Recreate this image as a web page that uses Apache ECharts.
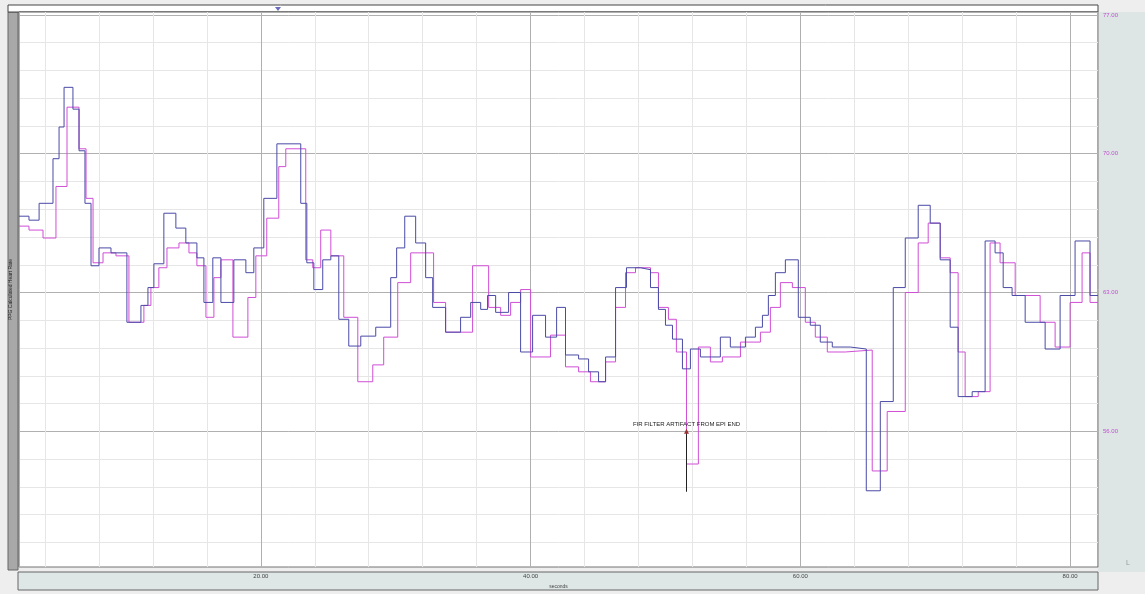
<!DOCTYPE html>
<html>
<head>
    <meta charset="utf-8">
    <script src="https://cdn.jsdelivr.net/npm/echarts@6/dist/echarts.min.js"></script>
    <style>
        html, body { margin: 0; padding: 0; background: #eeeeee; }
    </style>
</head>
<body>
	<div id="main" style="width: 1145px; height: 594px;"></div>
	<script type="text/javascript">
		// heart rate (bpm) step values, blue = reference trace, pink = filtered trace
		var blueT = [2.07, 2.81, 3.56, 4.59, 5.04, 5.41, 6.07, 6.52, 6.96, 7.41,
			8.0, 8.89, 10.07, 11.11, 11.63, 12.07, 12.81, 13.70, 14.44, 15.26,
			15.78, 16.44, 17.04, 18.0, 18.89, 19.48, 20.22, 21.19, 22.96, 23.41,
			23.93, 24.59, 25.19, 25.78, 26.52, 27.41, 28.52, 29.63, 30.07, 30.67,
			31.48, 32.22, 32.74, 33.70, 34.81, 35.56, 36.30, 36.81, 37.41, 38.37,
			39.26, 40.15, 41.11, 41.93, 42.59, 43.56, 44.30, 45.04, 45.56, 46.30,
			47.11, 48.15, 48.89, 49.48, 50.0, 50.52, 51.26, 51.85, 52.59, 54.07,
			54.81, 55.93, 56.67, 57.19, 57.63, 58.15, 58.89, 59.85, 60.74, 61.48,
			62.37, 63.70, 64.89, 65.93, 66.89, 67.78, 68.74, 69.63, 70.37, 71.11,
			71.70, 72.74, 73.70, 74.44, 75.04, 75.70, 76.67, 78.15, 79.26, 80.37,
			81.48, 82.07]
		var blueV = [66.85, 66.65, 67.5, 69.75, 71.35, 73.35, 72.25, 70.15, 67.5, 64.35,
			65.25, 65.0, 61.5, 62.35, 63.25, 64.45, 67.0, 66.25, 65.5, 64.75,
			62.5, 64.75, 62.5, 64.65, 64.0, 65.25, 67.75, 70.5, 67.5, 64.5,
			63.15, 64.65, 64.85, 61.65, 60.3, 60.8, 61.25, 63.75, 65.25, 66.85,
			65.5, 63.75, 62.25, 61.0, 61.75, 62.5, 62.15, 62.85, 62.0, 63.0,
			60.0, 61.85, 60.75, 62.25, 59.85, 59.65, 59.0, 58.5, 59.75, 63.25,
			64.25, 64.15, 63.25, 62.15, 61.35, 60.65, 59.15, 60.15, 59.75, 60.75,
			60.25, 60.75, 61.25, 61.85, 62.85, 64.0, 64.65, 61.75, 61.35, 60.5,
			60.25, 60.15, 53.0, 57.5, 63.25, 65.75, 67.4, 66.5, 64.65, 61.25,
			57.75, 58.0, 65.6, 65.0, 63.25, 62.85, 61.5, 60.15, 62.85, 65.6,
			62.85, 62.85]
		var pinkT = [2.07, 2.81, 3.85, 4.81, 5.63, 6.52, 7.04, 7.56, 8.30, 9.26,
			10.22, 11.33, 11.85, 12.44, 13.04, 13.93, 14.67, 15.26, 15.93, 16.52,
			17.04, 17.93, 19.04, 19.63, 20.44, 21.33, 21.85, 23.33, 23.85, 24.44,
			25.19, 26.15, 27.19, 28.30, 29.11, 30.15, 31.11, 32.81, 33.70, 35.70,
			36.89, 37.78, 38.52, 39.26, 40.0, 41.48, 42.59, 43.56, 44.44, 45.56,
			46.30, 47.04, 47.78, 48.89, 49.48, 50.22, 50.81, 51.56, 52.44, 53.33,
			54.22, 55.56, 57.04, 57.78, 58.52, 59.41, 60.37, 61.11, 62.0, 63.33,
			65.33, 66.44, 67.78, 68.74, 69.48, 70.37, 71.11, 71.70, 72.22, 73.19,
			74.07, 74.81, 75.93, 77.78, 78.89, 80.0, 80.89, 81.48, 82.07]
		var pinkV = [66.35, 66.15, 65.75, 68.35, 72.35, 70.25, 67.75, 64.5, 65.0, 64.85,
			61.5, 62.35, 63.25, 64.25, 65.25, 65.5, 65.0, 64.35, 61.75, 63.75,
			64.65, 60.75, 62.75, 64.85, 66.75, 69.35, 70.25, 64.65, 64.25, 66.15,
			64.85, 61.75, 58.5, 59.35, 60.75, 63.5, 65.0, 62.5, 61.0, 64.35,
			62.25, 61.85, 62.5, 63.15, 59.75, 60.85, 59.25, 59.0, 58.5, 59.5,
			62.25, 64.0, 64.25, 64.0, 62.25, 61.65, 60.0, 54.35, 60.25, 59.5,
			59.75, 60.5, 61.0, 62.25, 63.5, 63.25, 61.5, 60.75, 60.0, 60.1,
			54.0, 57.0, 63.0, 65.5, 66.5, 64.75, 64.0, 60.0, 57.75, 58.0,
			65.5, 64.5, 62.85, 61.5, 60.25, 62.5, 65.0, 62.5, 62.5]

		var artifactT = 51.56
		var artifactTop = 56.0
		var artifactBottom = 52.95
		var artifactText = 'FIR FILTER ARTIFACT FROM EPI END'

		var xMin = 2.07, xMax = 82.07
		var yMin = 49.15, yMax = 77.15

		function pairs(t, v){
			var out = []
			for (var i = 0; i < t.length; i++){
				out.push([t[i], v[i]])
			}
			return out
		}
		function isMult(v, step){
			return Math.abs(v / step - Math.round(v / step)) < 1e-6
		}

		var myChart = echarts.init(document.getElementById('main'))
		var font = 'Liberation Sans'

option = {
    animation: false,
    backgroundColor: '#eeeeee',
    textStyle: { fontFamily: font },
    grid: {
        left: 18, right: 47, top: 12, bottom: 22,
        show: true,
        backgroundColor: '#ffffff',
        borderColor: '#555',
        borderWidth: 1
    },
    xAxis: [{
        type: 'value', min: xMin, max: xMax,
        minInterval: 4, maxInterval: 4,
        axisLine: { show: false }, axisTick: { show: false },
        axisLabel: { show: false },
        splitLine: { show: true, lineStyle: { color: '#e6e6e6', width: 1 } }
    }, {
        type: 'value', min: xMin, max: xMax,
        minInterval: 20, maxInterval: 20,
        position: 'bottom',
        axisLine: { show: false }, axisTick: { show: false },
        axisLabel: {
            margin: 6, fontSize: 6, color: '#444',
            formatter: function (v) { return isMult(v, 20) ? v.toFixed(2) : '' }
        },
        name: 'seconds', nameLocation: 'middle', nameGap: 13,
        nameTextStyle: { fontSize: 5, color: '#444' },
        splitLine: { show: true, lineStyle: { color: '#b0b0b0', width: 1 } }
    }],
    yAxis: [{
        type: 'value', min: yMin, max: yMax,
        minInterval: 1.4, maxInterval: 1.4,
        axisLine: { show: false }, axisTick: { show: false },
        axisLabel: { show: false },
        name: 'PPG Calculated Heart Rate', nameLocation: 'middle', nameGap: 6,
        nameRotate: 90,
        nameTextStyle: { fontSize: 5, color: '#222' },
        splitLine: { show: true, lineStyle: { color: '#e6e6e6', width: 1 } }
    }, {
        type: 'value', min: yMin, max: yMax,
        minInterval: 7, maxInterval: 7,
        position: 'right',
        axisLine: { show: false }, axisTick: { show: false },
        axisLabel: {
            margin: 5, fontSize: 6, color: '#c050d0',
            formatter: function (v) { return (isMult(v, 7) && v > 50) ? v.toFixed(2) : '' }
        },
        splitLine: { show: true, lineStyle: { color: '#b0b0b0', width: 1 } }
    }],
    graphic: [
        // left strip with axis name
        { type: 'rect', shape: { x: 8, y: 12, width: 10, height: 558 },
          style: { fill: '#a8a8a8', stroke: '#666', lineWidth: 1 }, z: -1 },
        // top bar
        { type: 'rect', shape: { x: 8, y: 5, width: 1090, height: 7 },
          style: { fill: '#ffffff', stroke: '#444', lineWidth: 1 }, z: -1 },
        { type: 'polygon', shape: { points: [[275, 7], [281, 7], [278, 11]] },
          style: { fill: '#6a6ac0' } },
        // right panel
        { type: 'rect', shape: { x: 1098, y: 12, width: 47, height: 560 },
          style: { fill: '#dde5e5' }, z: -1 },
        // bottom panel
        { type: 'rect', shape: { x: 18, y: 572, width: 1080, height: 18 },
          style: { fill: '#dfe6e6', stroke: '#666', lineWidth: 1 }, z: -1 },
        { type: 'text', x: 1126, y: 560,
          style: { text: 'L', fontSize: 7, fill: '#999', fontFamily: font } }
    ],
    series: [{
        name: 'pink',
        type: 'line',
        step: 'end',
        showSymbol: false,
        data: pairs(pinkT, pinkV),
        lineStyle: { color: '#d04ed6', width: 1 },
        itemStyle: { color: '#d04ed6' },
        markLine: {
            silent: true,
            symbol: ['none', 'none'],
            label: { show: false },
            lineStyle: { color: '#222', width: 1, type: 'solid' },
            data: [[{ coord: [artifactT, artifactTop] }, { coord: [artifactT, artifactBottom] }]]
        },
        markPoint: {
            silent: true,
            symbol: 'triangle',
            symbolSize: 5,
            itemStyle: { color: '#a03030' },
            label: {
                show: true, position: 'top', distance: 1,
                fontSize: 6, color: '#222',
                formatter: artifactText
            },
            data: [{ coord: [artifactT, artifactTop] }]
        }
    }, {
        name: 'blue',
        type: 'line',
        step: 'end',
        showSymbol: false,
        data: pairs(blueT, blueV),
        lineStyle: { color: '#4a4aa6', width: 1 },
        itemStyle: { color: '#4a4aa6' }
    }]
};
	myChart.setOption(option)
	</script>
</body>
</html>
